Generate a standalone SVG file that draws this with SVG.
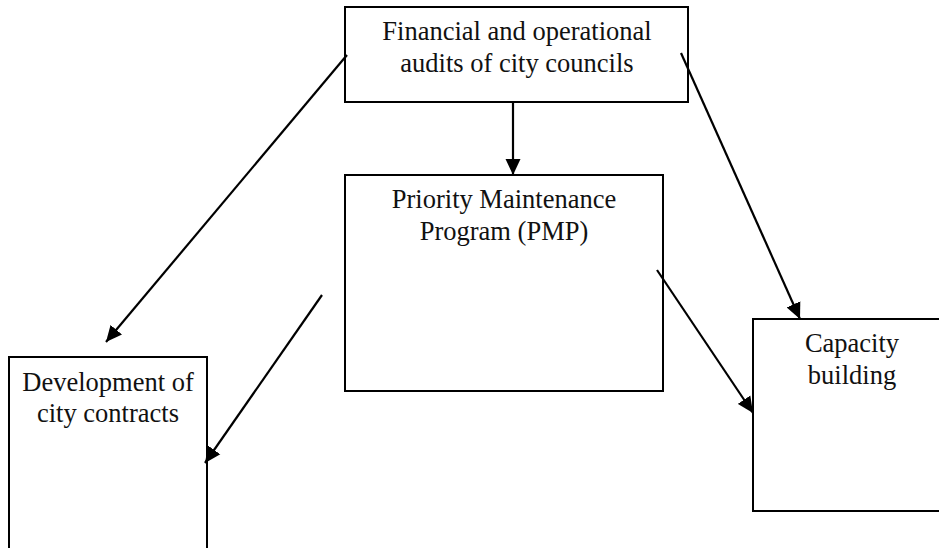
<svg xmlns="http://www.w3.org/2000/svg" width="939" height="548" viewBox="0 0 939 548">
<style>
.box{fill:#fff;stroke:#000;stroke-width:2}
.lbl{font-family:"Liberation Serif","Times New Roman",serif;font-size:26.5px;fill:#111;text-anchor:middle}
.conn line{stroke:#000;stroke-width:2.2;fill:none}
</style>
<defs>
<marker id="ah" markerUnits="userSpaceOnUse" markerWidth="17" markerHeight="16" refX="16" refY="8" orient="auto">
<path d="M0,0.5 L16,8 L0,15.5 Z" fill="#000"/>
</marker>
</defs>
<rect width="939" height="548" fill="#fff"/>
<g id="audits">
<rect class="box" x="345" y="7" width="343" height="95"/>
<text class="lbl" x="517" y="40">Financial and operational</text>
<text class="lbl" x="517" y="72">audits of city councils</text>
</g>
<g id="pmp">
<rect class="box" x="345" y="175" width="318" height="216"/>
<text class="lbl" x="504" y="208">Priority Maintenance</text>
<text class="lbl" x="504" y="240">Program (PMP)</text>
</g>
<g id="contracts">
<rect class="box" x="9" y="357" width="198" height="200"/>
<text class="lbl" x="108" y="391">Development of</text>
<text class="lbl" x="108" y="422">city contracts</text>
</g>
<g id="capacity">
<rect class="box" x="753" y="319" width="200" height="192"/>
<text class="lbl" x="852" y="352">Capacity</text>
<text class="lbl" x="852" y="384">building</text>
</g>
<g id="connectors" class="conn">
<line x1="347" y1="55" x2="106" y2="342" marker-end="url(#ah)"/>
<line x1="513" y1="102" x2="513" y2="175" marker-end="url(#ah)"/>
<line x1="681" y1="53" x2="800" y2="319" marker-end="url(#ah)"/>
<line x1="322" y1="295" x2="205" y2="463" marker-end="url(#ah)"/>
<line x1="657" y1="270" x2="753" y2="413" marker-end="url(#ah)"/>
</g>
</svg>
